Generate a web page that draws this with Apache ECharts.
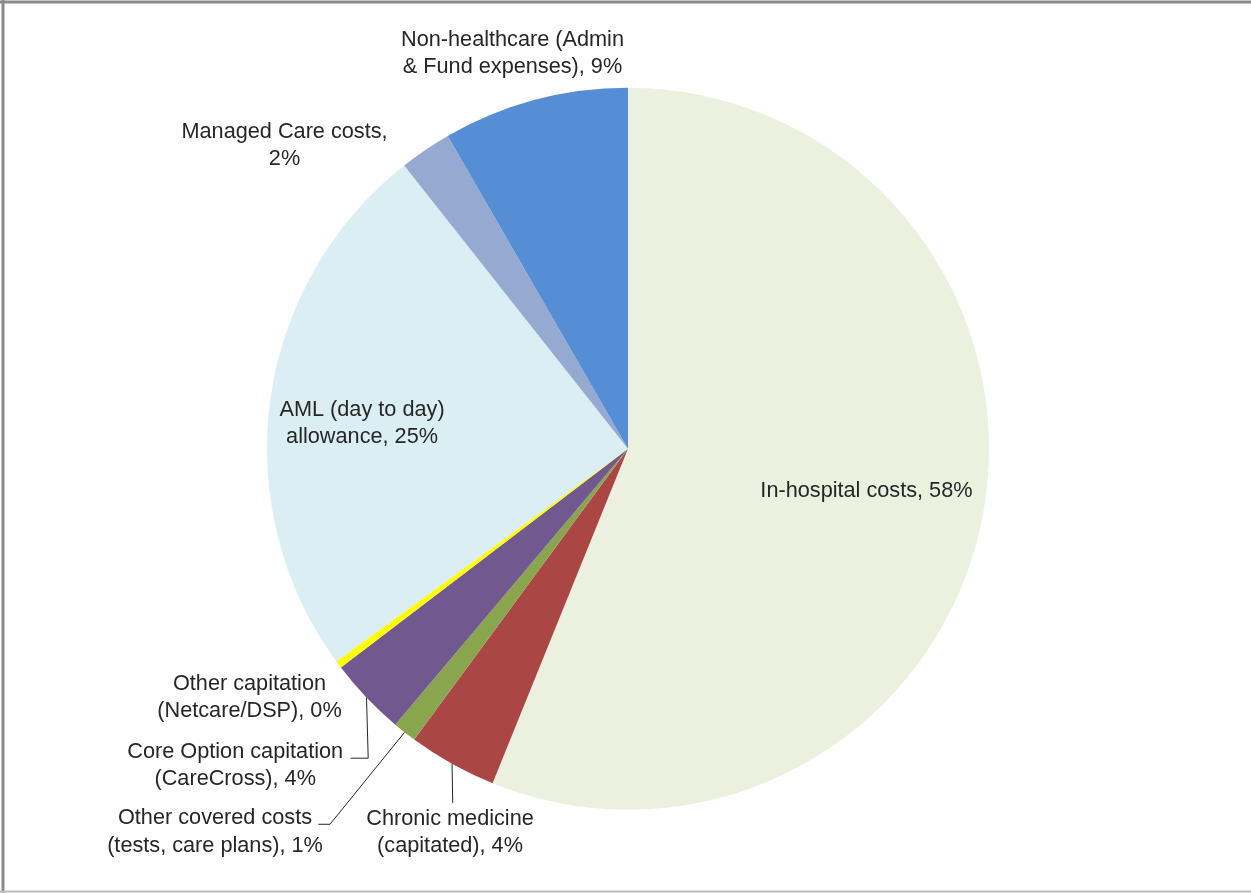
<!DOCTYPE html>
<html>
<head>
<meta charset="utf-8">
<script src="https://cdn.jsdelivr.net/npm/echarts@6/dist/echarts.min.js"></script>
<style>
html,body{margin:0;padding:0;background:#fff;}
#chart{width:1251px;height:893px;}
</style>
</head>
<body>
<div id="chart"></div>
<script>
// ---- data ----
const categories = [
  'In-hospital costs',
  'Chronic medicine\n(capitated)',
  'Other covered costs\n(tests, care plans)',
  'Core Option capitation\n(CareCross)',
  'Other capitation\n(Netcare/DSP)',
  'AML (day to day)\nallowance',
  'Managed Care costs,\n',
  'Non-healthcare (Admin\n& Fund expenses)'
];
const values = [58.0, 4.1, 1.1, 3.6, 0.35, 25.2, 2.4, 8.6];
const colors = ['#EBF1DE', '#AA4643', '#89A54E', '#71588F', '#FFFF00', '#DBEEF4', '#95A9D1', '#558ED5'];

// ---- layout / style ----
const CX = 628, CY = 448.7, R = 361;
// label offsets relative to the slice's outer edge point at its mid-angle
const labelOffsets = [
  [-115.9, -26.9], [-2, 68.6], [-189.6, 99.7], [-131.3, 68.1],
  [-89.1, 33.3], [91.7, 23.7], [-140.9, -4.4], [-22.2, -46.3]
];
// leader line bends relative to the same edge point (null = no line)
const leaderBends = [
  null, [[0.7, 39]], [[-74.6, 92], [-86.3, 92]], [[1.7, 60.6], [-15.9, 60.6]],
  null, null, null, null
];

const total = values.reduce((a, b) => a + b, 0);
const midAngles = [];
{
  let acc = 0;
  values.forEach(v => { midAngles.push((acc + v / 2) / total * 2 * Math.PI); acc += v; });
}
function edgePoint(i) {
  const t = midAngles[i];
  return [CX + R * Math.sin(t), CY - R * Math.cos(t)];
}
function labelText(i) {
  const pct = Math.round(values[i]) + '%';
  const c = categories[i];
  if (c.endsWith('\n')) return c + pct;
  return c + ', ' + pct;
}

const chart = echarts.init(document.getElementById('chart'), null, {renderer: 'canvas'});
const FONT = 'Liberation Sans';
chart.setOption({
  backgroundColor: '#ffffff',
  animation: false,
  graphic: [
    {type: 'line', shape: {x1: 3, y1: 0, x2: 3, y2: 893}, style: {stroke: '#8a8a8a', lineWidth: 3}, silent: true},
    {type: 'line', shape: {x1: 0, y1: 2, x2: 1251, y2: 2}, style: {stroke: '#8a8a8a', lineWidth: 3}, silent: true},
    {type: 'line', shape: {x1: 0, y1: 891.5, x2: 1251, y2: 891.5}, style: {stroke: '#bdbdbd', lineWidth: 2}, silent: true}
  ],
  series: [{
    type: 'pie',
    center: [CX, CY],
    radius: [0, R],
    startAngle: 90,
    clockwise: true,
    avoidLabelOverlap: false,
    silent: true,
    itemStyle: {borderWidth: 0},
    label: {
      show: true,
      position: 'outside',
      formatter: p => labelText(p.dataIndex),
      color: '#262626',
      fontFamily: FONT,
      fontSize: 21.7,
      lineHeight: 27.5,
      align: 'center'
    },
    labelLine: {show: false, lineStyle: {color: '#262626', width: 1}},
    labelLayout: function (params) {
      const i = params.dataIndex;
      const e = edgePoint(i);
      const off = labelOffsets[i];
      const res = {x: e[0] + off[0], y: e[1] + off[1], align: 'center', verticalAlign: 'middle'};
      if (leaderBends[i]) {
        res.labelLinePoints = [e].concat(leaderBends[i].map(b => [e[0] + b[0], e[1] + b[1]]));
      }
      return res;
    },
    data: categories.map((c, i) => ({
      name: c,
      value: values[i],
      itemStyle: {color: colors[i]},
      labelLine: {show: !!leaderBends[i]}
    }))
  }]
});
</script>
</body>
</html>
